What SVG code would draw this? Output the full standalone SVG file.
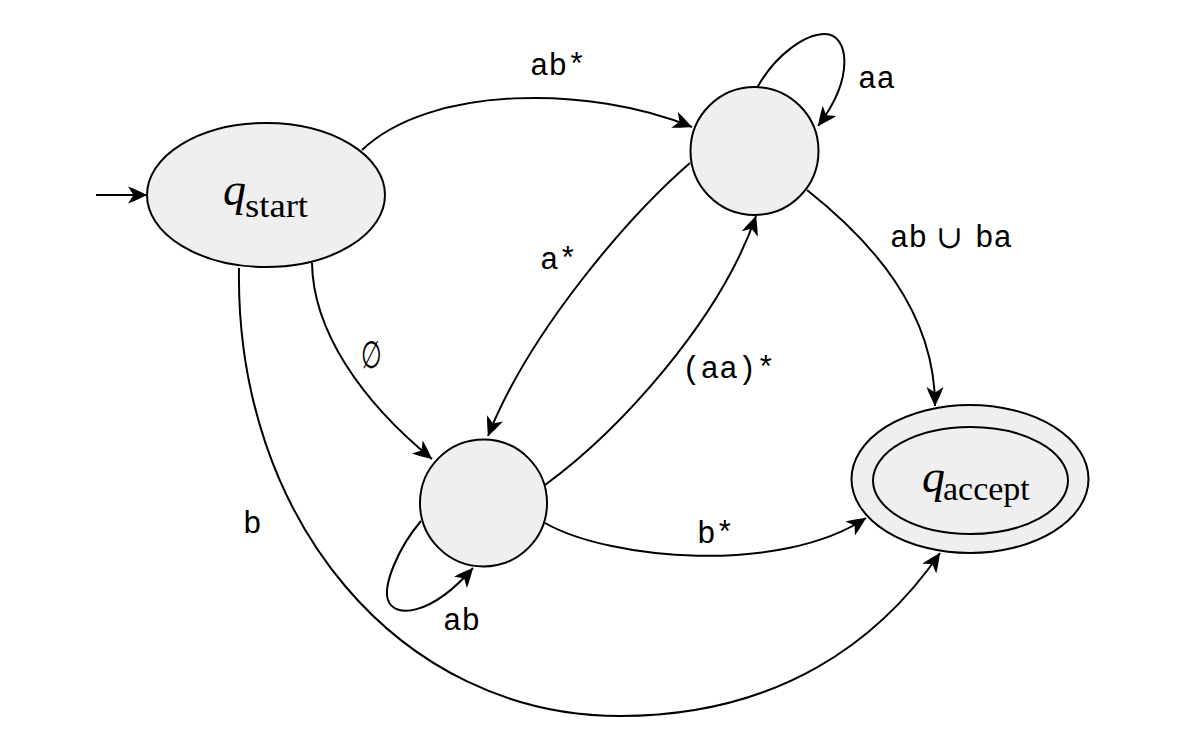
<svg xmlns="http://www.w3.org/2000/svg" width="1200" height="753" viewBox="0 0 1200 753">
<style>
.node{fill:#efefef;stroke:#000;stroke-width:2}
.edge{fill:none;stroke:#000;stroke-width:2;marker-end:url(#arr)}
.q{font-family:"Liberation Serif",serif;font-style:italic;font-size:46px}
.sub{font-family:"Liberation Serif",serif;font-size:34px}
.lbl{font-family:"Liberation Mono",monospace;font-size:31px}
.math{font-family:"DejaVu Serif","Liberation Serif",serif;font-size:32px}
</style>
<defs>
<marker id="arr" viewBox="-20 -10 22 20" markerWidth="22" markerHeight="20" refX="0" refY="0" orient="auto" markerUnits="userSpaceOnUse">
<path d="M0,0 C-5,-2.5 -12,-6 -19,-8.5 L-13.5,0 L-19,8.5 C-12,6 -5,2.5 0,0 Z" fill="#000"/>
</marker>
</defs>
<rect width="1200" height="753" fill="#fff"/>
<g id="connectors">
<path class="edge" d="M96,195 L147,195"/>
<path class="edge" d="M362,150 C430,85 590,85 692,127"/>
<path class="edge" d="M757,88 C775,55 805,34 825,34 C848,34 856,76 818,126"/>
<path class="edge" d="M807,190 C870,240 935,310 935,406"/>
<path class="edge" d="M690,163 C630,215 530,330 488,436"/>
<path class="edge" d="M545,485 C620,430 720,320 756,216"/>
<path class="edge" d="M312,263 C313,330 360,400 432,459"/>
<path class="edge" d="M239,268 C235,520 400,716 620,716 C780,716 880,640 940,553"/>
<path class="edge" d="M545,523 C610,560 780,575 866,518"/>
<path class="edge" d="M421,521 C398,548 383,585 388,600 C394,618 430,617 473,568"/>
</g>
<g id="q_start">
<ellipse class="node" cx="266" cy="195" rx="119" ry="72"/>
<text x="223" y="205" class="q">q</text>
<text x="245" y="217" class="sub" textLength="63" lengthAdjust="spacingAndGlyphs">start</text>
</g>
<g id="q_top">
<circle class="node" cx="754.5" cy="151" r="64"/>
</g>
<g id="q_mid">
<circle class="node" cx="483.5" cy="503" r="63.5"/>
</g>
<g id="q_accept">
<ellipse class="node" cx="970" cy="479" rx="118.5" ry="74"/>
<ellipse class="node" cx="970.5" cy="480.5" rx="97.5" ry="53.5"/>
<text x="922" y="492" class="q">q</text>
<text x="943" y="500" class="sub">accept</text>
</g>
<g id="labels">
<text x="530" y="75" class="lbl">ab*</text>
<text x="858" y="88" class="lbl">aa</text>
<text x="890" y="247" class="lbl">ab</text>
<text x="936" y="248" class="math">∪</text>
<text x="975" y="247" class="lbl">ba</text>
<text x="540" y="269" class="lbl">a*</text>
<text x="682" y="378" class="lbl">(aa)*</text>
<text transform="translate(361,368) scale(0.75,1.2)" class="math">∅</text>
<text x="243" y="533" class="lbl">b</text>
<text x="697" y="543" class="lbl">b*</text>
<text x="443" y="630" class="lbl">ab</text>
</g>
</svg>
